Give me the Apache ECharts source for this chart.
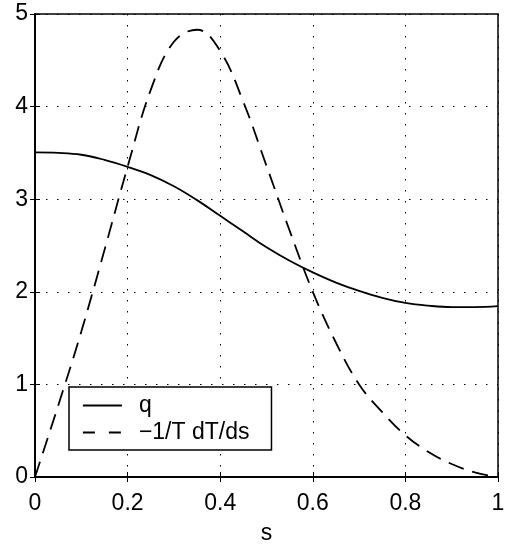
<!DOCTYPE html>
<html>
<head>
<meta charset="utf-8">
<script src="https://cdn.jsdelivr.net/npm/echarts@6/dist/echarts.min.js"></script>
<style>html,body{margin:0;padding:0;background:#fff}#c{width:514px;height:546px}</style>
</head>
<body>
<div id="c"></div>
<script>
var sValues = [0, 0.05, 0.1, 0.15, 0.2, 0.25, 0.3, 0.35, 0.4, 0.45, 0.5, 0.55, 0.6, 0.65, 0.7, 0.75, 0.8, 0.85, 0.9, 0.95, 1.0];
var qValues = [3.505, 3.5, 3.48, 3.425, 3.35, 3.26, 3.14, 2.99, 2.82, 2.65, 2.48, 2.335, 2.21, 2.10, 2.01, 1.935, 1.88, 1.85, 1.835, 1.835, 1.845];
var dTValues = [0, 0.77, 1.57, 2.45, 3.35, 4.18, 4.7, 4.83, 4.6, 4.05, 3.36, 2.66, 2.0, 1.45, 1.0, 0.7, 0.45, 0.27, 0.14, 0.05, 0];
var xTicks = [0, 0.2, 0.4, 0.6, 0.8, 1];
var yTicks = [0, 1, 2, 3, 4, 5];
var seriesNames = ['q', '\u22121/T dT/ds'];

function pairs(xs, ys) { return xs.map(function (x, i) { return [x, ys[i]]; }); }

var FONT = 'Liberation Sans, Arial, Helvetica, sans-serif';
var chart = echarts.init(document.getElementById('c'), null, {renderer: 'canvas'});
var gridDots = {show: true, lineStyle: {color: '#000', width: 1, type: [1.5, 9.5]}};
chart.setOption({
  animation: false,
  backgroundColor: '#fff',
  grid: {left: 35, top: 14, right: 16, bottom: 69, show: true, borderColor: '#000', borderWidth: 1.5,
    backgroundColor: 'transparent', containLabel: false, outerBoundsMode: 'none'},
  xAxis: [{
    type: 'value', min: 0, max: 1, interval: 0.2,
    name: 's', nameLocation: 'middle', nameGap: 45,
    nameTextStyle: {fontFamily: FONT, fontSize: 23, color: '#000'},
    axisLine: {show: true, onZero: false, lineStyle: {color: '#000', width: 1.5}},
    axisTick: {show: true, inside: true, length: 5, lineStyle: {color: '#000'}},
    axisLabel: {fontFamily: FONT, fontSize: 23, color: '#000', margin: 15,
      formatter: function (v) { return xTicks.indexOf(+v.toFixed(1)) >= 0 ? String(+v.toFixed(1)) : ''; }},
    splitLine: gridDots
  }, {
    type: 'value', min: 0, max: 1, interval: 0.2, position: 'top',
    axisLine: {show: true, lineStyle: {color: '#000', width: 1.5}},
    axisTick: {show: true, inside: true, length: 5, lineStyle: {color: '#000'}},
    axisLabel: {show: false}, splitLine: {show: false}
  }],
  yAxis: [{
    type: 'value', min: 0, max: 5, interval: 1,
    axisLine: {show: true, onZero: false, lineStyle: {color: '#000', width: 1.5}},
    axisTick: {show: true, inside: true, length: 5, lineStyle: {color: '#000'}},
    axisLabel: {fontFamily: FONT, fontSize: 23, color: '#000', margin: 7,
      formatter: function (v) { return yTicks.indexOf(v) >= 0 ? String(v) : ''; }},
    splitLine: gridDots
  }, {
    type: 'value', min: 0, max: 5, interval: 1, position: 'right',
    axisLine: {show: true, lineStyle: {color: '#000', width: 1.5}},
    axisTick: {show: true, inside: true, length: 5, lineStyle: {color: '#000'}},
    axisLabel: {show: false}, splitLine: {show: false}
  }],
  legend: {
    orient: 'vertical', left: 69, top: 387,
    padding: [7, 22, 6, 13], itemGap: 4, itemWidth: 39, itemHeight: 24,
    backgroundColor: '#fff', borderColor: '#000', borderWidth: 1.5,
    itemStyle: {opacity: 0},
    lineStyle: {width: 1.8, color: '#000'},
    textStyle: {fontFamily: FONT, fontSize: 23, color: '#000', padding: [0, 0, 0, 12]},
    data: [
      {name: seriesNames[0], lineStyle: {type: 'solid', width: 1.8, color: '#000'}},
      {name: seriesNames[1], lineStyle: {type: [12, 14], width: 1.8, color: '#000'}}
    ]
  },
  series: [{
    name: seriesNames[0], type: 'line', smooth: 0.4, symbol: 'none',
    data: pairs(sValues, qValues),
    lineStyle: {color: '#000', width: 1.8, type: 'solid'}, itemStyle: {color: '#000'}
  }, {
    name: seriesNames[1], type: 'line', smooth: 0.4, symbol: 'none',
    data: pairs(sValues, dTValues),
    lineStyle: {color: '#000', width: 1.8, type: [16, 9]}, itemStyle: {color: '#000'}
  }]
});
</script>
</body>
</html>
